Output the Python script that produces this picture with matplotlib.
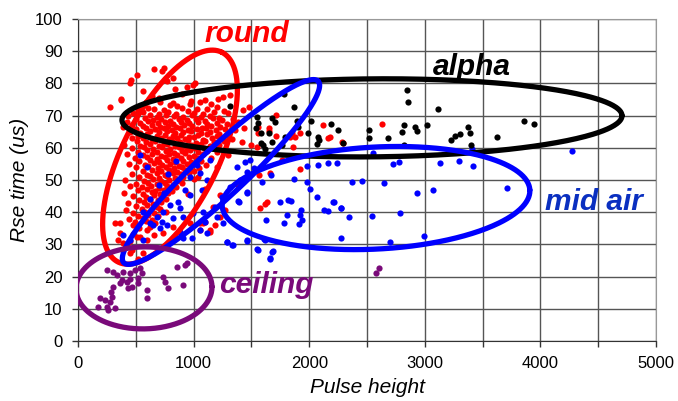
import numpy as np
import matplotlib
matplotlib.use("Agg")
import matplotlib.pyplot as plt

plt.rcParams['font.family'] = ['Liberation Sans', 'DejaVu Sans']

# pulse height vs rise time, one list per event class
red_pts = [
    (660, 84.4), (744, 84.9), (724, 83.7), (507, 82.6), (456, 81.0), (820, 81.8), (450, 80.2), (767, 80.6), (1012, 80.0), (997, 79.4),
    (842, 78.2), (946, 78.8), (560, 77.6), (372, 75.3), (1315, 76.4), (1257, 75.9), (900, 76.6), (640, 76.2), (369, 74.8), (1214, 75.3),
    (700, 75.4), (980, 74.6), (1100, 75.0), (709, 74.3), (1055, 74.3), (820, 73.8), (590, 74.1), (1150, 73.6), (608, 72.3), (796, 73.3),
    (969, 73.5), (1200, 72.7), (277, 72.6), (860, 72.9), (1482, 72.6),
    (520, 71.8), (660, 72.2), (740, 71.6), (900, 72.4), (1030, 71.9), (1120, 72.1), (1430, 71.7), (1260, 71.4),
    (480, 70.9), (560, 71.2), (700, 70.6), (780, 71.0), (850, 70.4), (950, 71.3), (1000, 70.8), (1080, 70.5), (1180, 71.1), (1300, 70.7),
    (430, 69.8), (620, 70.1), (680, 69.6), (760, 70.2), (830, 69.9), (910, 69.5), (990, 70.3), (1060, 69.7), (1140, 70.0), (1220, 69.4), (1713, 70.1),
    (500, 68.9), (580, 69.2), (650, 68.6), (720, 69.0), (800, 68.4), (870, 69.1), (940, 68.7), (1020, 68.9), (1100, 68.3), (1170, 69.3), (1250, 68.5), (1340, 68.8),
    (421, 68.1), (540, 67.8), (610, 68.2), (690, 67.6), (750, 68.0), (820, 67.4), (890, 67.9), (960, 67.7), (1040, 68.1), (1120, 67.5), (1200, 67.8), (1290, 67.3), (1380, 67.9),
    (392, 66.6), (470, 67.2), (560, 66.8), (640, 67.0), (710, 66.4), (780, 66.9), (850, 66.5), (920, 67.1), (990, 66.7), (1070, 66.3), (1150, 66.9), (1230, 66.6), (2122, 67.1), (1554, 66.6), (2627, 67.4),
    (500, 65.9), (590, 66.2), (670, 65.7), (740, 66.0), (810, 65.6), (880, 66.1), (950, 65.4), (1030, 65.8), (1110, 66.2), (1190, 65.5), (1270, 65.9), (1360, 65.6), (1440, 66.0), (1655, 66.0), (1652, 65.3),
    (450, 65.0), (540, 64.6), (620, 65.1), (700, 64.8), (770, 65.3), (840, 64.5), (910, 64.9), (980, 65.2), (1060, 64.7), (1140, 65.0), (1220, 64.4), (1300, 64.8), (1848, 64.7),
    (520, 63.8), (600, 64.2), (680, 63.6), (750, 64.1), (820, 63.7), (890, 64.0), (960, 63.5), (1040, 63.9), (1120, 64.3), (1200, 63.6), (1280, 63.9), (1560, 64.5), (1920, 64.5),
    (464, 62.9), (560, 63.2), (640, 62.7), (720, 63.0), (790, 62.6), (860, 63.1), (930, 62.8), (1000, 63.3), (1080, 62.5), (1160, 62.9), (1240, 63.2), (1330, 62.7), (1713, 63.7), (1834, 63.5), (2166, 63.2), (1877, 63.5), (2180, 63.5),
    (510, 62.0), (590, 61.7), (670, 62.2), (740, 61.6), (810, 62.1), (880, 61.8), (950, 62.3), (1020, 61.5), (1100, 62.0), (1180, 61.7), (1260, 62.2), (1420, 61.9), (2281, 61.9), (2290, 61.6),
    (400, 61.0), (540, 60.7), (620, 61.2), (700, 60.6), (770, 61.1), (840, 60.5), (910, 61.0), (980, 60.8), (1060, 61.3), (1140, 60.6), (1220, 61.0), (1500, 60.9),
    (470, 59.9), (570, 60.2), (650, 59.6), (730, 60.1), (800, 59.7), (870, 60.3), (940, 59.5), (1010, 60.0), (1090, 59.8), (1170, 60.2), (1546, 60.3), (1863, 60.3),
    (520, 58.8), (600, 59.2), (680, 58.6), (760, 59.0), (830, 58.5), (900, 58.9), (970, 59.3), (1040, 58.7), (1120, 59.1), (1200, 58.6),
    (420, 58.0), (560, 57.7), (640, 58.2), (720, 57.6), (790, 58.1), (860, 57.8), (930, 58.3), (1000, 57.5), (1080, 58.0), (1300, 57.9),
    (490, 56.9), (600, 57.1), (680, 56.6), (750, 57.0), (820, 56.5), (890, 56.8), (960, 57.2), (1030, 56.7), (1150, 56.9),
    (530, 55.9), (620, 56.2), (700, 55.7), (770, 56.1), (840, 55.6), (910, 56.0), (980, 55.5), (1060, 55.8), (1762, 56.2),
    (440, 55.0), (580, 54.7), (660, 55.2), (730, 54.6), (800, 55.1), (870, 54.5), (940, 54.9), (1010, 55.3), (1110, 54.8),
    (500, 53.9), (610, 54.2), (690, 53.7), (760, 54.1), (830, 53.6), (900, 54.0), (970, 53.5), (1050, 53.8), (1200, 54.0),
    (560, 52.9), (640, 53.2), (720, 52.7), (790, 53.1), (860, 52.6), (930, 53.0), (1000, 52.8), (1920, 53.3),
    (470, 52.0), (600, 51.7), (680, 52.2), (750, 51.6), (820, 52.1), (890, 51.8), (960, 52.3), (1661, 52.1),
    (530, 50.9), (620, 51.2), (700, 50.7), (770, 51.1), (840, 50.6), (910, 51.0), (1040, 50.8), (1568, 51.6),
    (410, 50.0), (570, 49.7), (650, 50.2), (720, 49.6), (790, 50.1), (860, 49.8), (1000, 50.2),
    (500, 48.9), (610, 49.2), (680, 48.7), (750, 49.1), (820, 48.6), (900, 49.0), (1387, 48.4),
    (450, 48.0), (550, 47.7), (630, 48.2), (700, 47.6), (770, 48.1), (850, 47.8),
    (520, 46.9), (600, 47.2), (670, 46.6), (740, 47.0), (810, 46.7), (1100, 47.1),
    (400, 46.0), (560, 45.7), (640, 46.2), (710, 45.6), (780, 46.1), (950, 45.8),
    (480, 45.0), (590, 44.7), (660, 45.2), (730, 44.6), (1228, 45.3),
    (530, 43.9), (620, 44.2), (690, 43.7), (760, 44.1), (1257, 44.8),
    (435, 42.8), (570, 43.2), (650, 42.7), (720, 43.1), (1632, 43.3), (1618, 42.6),
    (500, 41.9), (600, 42.2), (680, 41.7), (1171, 41.7),
    (415, 40.7), (550, 41.1), (630, 40.6), (710, 41.0), (1574, 41.2), (1272, 40.7),
    (480, 39.9), (580, 40.2), (660, 39.6), (760, 40.0),
    (520, 38.8), (610, 39.2), (690, 38.7), (1228, 38.6),
    (440, 37.9), (560, 38.2), (640, 37.7), (1099, 37.1),
    (490, 36.9), (590, 37.2), (670, 36.6),
    (320, 36.5), (363, 36.5), (479, 36.0), (623, 36.6), (969, 36.6), (1055, 36.6), (1185, 36.0), (1084, 36.5),
    (530, 35.2), (824, 35.5), (623, 35.5),
    (594, 34.5), (738, 33.5), (1142, 34.5), (1055, 34.5), (363, 33.4),
    (480, 33.1), (660, 32.8), (1142, 33.9),
    (507, 32.4), (536, 32.4), (594, 31.4),
    (349, 31.4), (392, 30.3), (450, 31.0),
    (420, 29.8), (470, 28.4), (565, 27.2), (450, 27.2), (520, 25.4),
]

blue_pts = [
    (3708, 47.6), (3074, 46.8), (2930, 45.9), (2785, 39.8), (2993, 32.7), (2699, 30.7), (2540, 38.9), (2347, 38.5), (2275, 32.0), (2275, 41.2),
    (2215, 43.2), (2166, 40.4), (2128, 40.7), (2064, 44.6), (2373, 49.5), (2459, 49.8), (2650, 49.0), (2555, 58.5), (2728, 55.0), (2774, 55.6),
    (3131, 55.4), (3299, 55.9), (3420, 54.3), (3405, 59.5), (2238, 55.4), (2166, 55.4), (2079, 54.7), (1978, 54.3), (1978, 49.5), (1871, 50.2),
    (2007, 47.1), (1819, 43.8), (1840, 43.5), (1747, 43.3), (1929, 40.7), (1920, 39.1), (1935, 37.6), (1915, 36.3), (1811, 39.1), (1782, 36.7),
    (1626, 37.6), (1459, 46.2), (1395, 43.3), (1589, 49.5), (1667, 51.6), (1609, 31.6), (1459, 31.2), (1551, 28.6), (1684, 27.9), (1664, 25.5),
    (1335, 29.7), (1286, 30.7), (1445, 55.7), (1522, 53.6), (4270, 59.1), (2209, 43.3), (2272, 41.2),
    (536, 57.8), (1027, 54.7), (1055, 52.1), (1113, 50.0), (969, 51.0), (926, 46.9), (969, 45.3), (868, 43.3), (882, 41.2), (796, 42.2),
    (738, 40.2), (680, 38.6), (724, 37.1), (651, 36.0), (824, 38.1), (911, 38.6), (997, 39.6), (1084, 40.2), (1099, 37.1), (1200, 38.6),
    (1257, 36.5), (1185, 41.7), (1243, 44.8), (1315, 47.9), (1401, 50.0), (1459, 52.6), (1488, 56.2), (1373, 54.1), (1142, 56.2), (1070, 46.9),
    (1387, 43.5), (1459, 45.9), (450, 31.4), (565, 31.4), (709, 35.0), (911, 31.9), (983, 31.9), (882, 33.9), (1055, 34.5), (1113, 33.5),
    (1286, 30.8), (1344, 29.8), (1459, 31.4), (1560, 28.3), (1618, 31.4), (1675, 27.7), (1661, 25.7), (392, 32.9), (623, 36.6), (767, 36.0),
    (600, 54.0), (700, 48.5), (780, 52.0), (620, 44.0), (560, 40.0), (850, 56.0), (740, 46.0),
]

black_pts = [
    (1785, 76.6), (1869, 72.6), (2843, 78.0), (2857, 74.3), (3111, 72.1), (3855, 68.3), (3942, 67.4), (2823, 67.1), (2915, 66.6), (2930, 65.3),
    (3016, 67.1), (2800, 65.0), (2520, 65.5), (2520, 62.9), (2685, 62.9), (2823, 60.9), (3224, 62.4), (3264, 63.8), (3307, 64.4), (3374, 66.5),
    (3391, 64.7), (3622, 63.5), (3400, 60.9), (2249, 65.5), (2186, 67.3), (2295, 61.6), (2013, 68.3), (1897, 68.2), (1906, 66.6), (1993, 64.5),
    (2073, 63.5), (2088, 62.4), (2064, 61.1), (1762, 60.9), (1681, 61.9), (1675, 69.2), (1704, 67.9), (1560, 67.8), (1540, 66.0), (1580, 64.5),
    (1655, 64.5), (1791, 63.5), (1603, 60.9), (1315, 73.0), (1550, 69.5), (1580, 61.5), (1620, 59.5),
]

purple_pts = [
    (248, 22.0), (305, 21.5), (392, 21.5), (450, 21.0), (493, 22.0), (551, 21.0), (522, 19.5), (450, 19.2), (421, 18.4), (363, 17.9),
    (305, 16.9), (282, 15.3), (435, 16.4), (522, 17.9), (594, 15.8), (594, 13.3), (738, 19.9), (753, 18.4), (781, 16.4), (911, 17.4),
    (854, 23.1), (940, 24.1), (926, 23.6), (190, 13.3), (234, 12.7), (277, 12.2), (320, 10.1), (248, 10.7), (176, 10.7), (262, 9.6),
    (334, 20.5), (291, 13.8), (380, 19.0), (470, 16.8), (540, 22.6), (2578, 21.2), (2604, 22.8),
]

RED = '#ff0000'
BLUE = '#0000ff'
PURPLE = '#7a0a7a'

fig = plt.figure(figsize=(6.78, 4.01), dpi=100)
ax = fig.add_axes([0.115, 0.1496, 0.8526, 0.803])

for pts, col in [(red_pts, RED), (blue_pts, BLUE), (black_pts, 'black'), (purple_pts, PURPLE)]:
    a = np.array(pts)
    ax.scatter(a[:, 0], a[:, 1], s=20, color=col, linewidths=0, zorder=3)

ax.set_xlim(0, 5000)
ax.set_ylim(0, 100)
ax.set_xticks(np.arange(0, 5001, 500))
ax.set_xticklabels([str(v) if v % 1000 == 0 else '' for v in range(0, 5001, 500)])
ax.set_yticks(np.arange(0, 101, 10))
ax.grid(True, color='#555555', linewidth=1.0)
ax.set_axisbelow(True)
ax.tick_params(direction='out', length=4, width=1, color='#333333', labelsize=12, pad=7)
for side in ['top', 'right']:
    ax.spines[side].set_color('#999999')
for side in ['left', 'bottom']:
    ax.spines[side].set_color('#333333')

ax.set_xlabel('Pulse height', fontsize=15, style='italic', labelpad=5)
ax.set_ylabel('Rse time (us)', fontsize=15, style='italic', labelpad=4)

# hand-drawn style ellipses, sized in pixels then mapped to data units
px_x = 5000 / 578.0
px_y = 100 / 322.0
t = np.linspace(0, 2 * np.pi, 400)


def ring(cx, cy, a, b, ang, col, z):
    th = np.radians(ang)
    u = a * np.cos(t)
    v = b * np.sin(t)
    xs = cx + (u * np.cos(th) - v * np.sin(th)) * px_x
    ys = cy + (u * np.sin(th) + v * np.cos(th)) * px_y
    ax.plot(xs, ys, color=col, linewidth=3.8, zorder=z, solid_capstyle='round')


ring(796, 57.1, 117, 48, 63.7, RED, 4)
ring(2543, 69.3, 250, 39, 0.5, 'black', 5)
ring(1237, 52.5, 133, 24, 43, BLUE, 6)
ring(2578, 44.4, 154, 51, 3, BLUE, 6)
ring(571, 16.5, 68, 41, 1, PURPLE, 6)

lab = dict(fontsize=21.5, fontweight='bold', style='italic', ha='center', va='baseline', zorder=7)
ax.text(1462, 92.9, 'round', color=RED, **lab)
ax.text(3410, 82.6, 'alpha', color='black', **lab)
ax.text(4464, 40.6, 'mid air', color='#0a2fc0', **lab)
ax.text(1626, 14.9, 'ceiling', color=PURPLE, **lab)

fig.savefig('out.png', dpi=100)
